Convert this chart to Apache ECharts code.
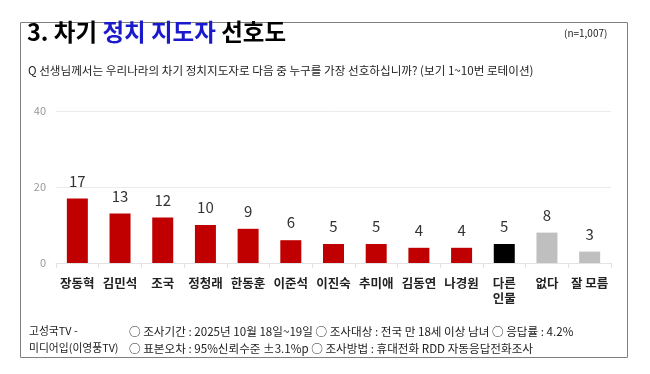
<!DOCTYPE html>
<html><head><meta charset="utf-8">
<script src="https://cdn.jsdelivr.net/npm/echarts@6/dist/echarts.min.js"></script>
<style>html,body{margin:0;padding:0;background:#fff}#c{width:650px;height:374px}</style>
</head><body><div id="c"></div>
<script>
const categories = ['장동혁','김민석','조국','정청래','한동훈','이준석','이진숙','추미애','김동연','나경원','다른\n인물','없다','잘 모름'];
const values = [17,13,12,10,9,6,5,5,4,4,5,8,3];
const barColors = ['#c00000','#c00000','#c00000','#c00000','#c00000','#c00000','#c00000','#c00000','#c00000','#c00000','#000000','#bfbfbf','#bfbfbf'];
const yTicks = [0,20,40];
const titleParts = ['3. 차기 ','정치 지도자',' 선호도'];
const sampleText = '(n=1,007)';
const questionText = 'Q 선생님께서는 우리나라의 차기 정치지도자로 다음 중 누구를 가장 선호하십니까? (보기 1~10번 로테이션)';
const footerLeft = ['고성국TV -','미디어입(이영풍TV)'];
const footerRight = ['○ 조사기간 : 2025년 10월 18일~19일 ○ 조사대상 : 전국 만 18세 이상 남녀 ○ 응답률 : 4.2%','○ 표본오차 : 95%신뢰수준 ±3.1%p ○ 조사방법 : 휴대전화 RDD 자동응답전화조사'];

const FONT = '"Noto Sans CJK KR","Noto Sans",sans-serif';
const chart = echarts.init(document.getElementById('c'), null, {renderer:'canvas'});
chart.setOption({
  animation:false,
  backgroundColor:'#fff',
  textStyle:{fontFamily:FONT},
  graphic:[
    {type:'rect',shape:{x:20.5,y:22.5,width:607,height:335},style:{fill:'none',stroke:'#808080',lineWidth:1}},
    {type:'text',left:27,top:20,style:{
      text:'{a|'+titleParts[0]+'}{b|'+titleParts[1]+'}{a|'+titleParts[2]+'}',
      rich:{a:{fontSize:23.5,fontWeight:'bold',fill:'#000',fontFamily:FONT},b:{fontSize:23.5,fontWeight:'bold',fill:'#1a1acc',fontFamily:FONT}}}},
    {type:'text',left:564,top:28,style:{text:sampleText,fontSize:10,fill:'#222',fontFamily:FONT}},
    {type:'text',left:28,top:65,style:{text:questionText,fontSize:11.6,fill:'#222',fontFamily:FONT}},
    {type:'text',left:29,top:326,style:{text:footerLeft[0],fontSize:10.8,fill:'#222',fontFamily:FONT}},
    {type:'text',left:29,top:343,style:{text:footerLeft[1],fontSize:10.8,fill:'#222',fontFamily:FONT}},
    {type:'text',left:129,top:326,style:{text:footerRight[0],fontSize:11.6,fill:'#222',fontFamily:FONT}},
    {type:'text',left:129,top:343,style:{text:footerRight[1],fontSize:11.6,fill:'#222',fontFamily:FONT}}
  ],
  grid:{left:56,right:39,top:111,bottom:111,containLabel:false},
  xAxis:{type:'category',data:categories,
    axisLine:{lineStyle:{color:'#e3e3e3'}},
    axisTick:{show:true,lineStyle:{color:'#e3e3e3'}},
    axisLabel:{interval:0,fontSize:12.5,fontWeight:'bold',color:'#222',margin:13,lineHeight:15,fontFamily:FONT}},
  yAxis:{type:'value',min:yTicks[0],max:yTicks[yTicks.length-1],interval:yTicks[1]-yTicks[0],
    axisLine:{show:false},axisTick:{show:false},
    splitLine:{lineStyle:{color:'#ebebeb'}},
    axisLabel:{fontSize:11,color:'#999',margin:10,fontFamily:FONT}},
  series:[{type:'bar',data:values.map((v,i)=>({value:v,itemStyle:{color:barColors[i]}})),
    barWidth:21,
    label:{show:true,position:'top',distance:10,fontSize:15,color:'#333',fontFamily:FONT}}]
});
</script></body></html>
